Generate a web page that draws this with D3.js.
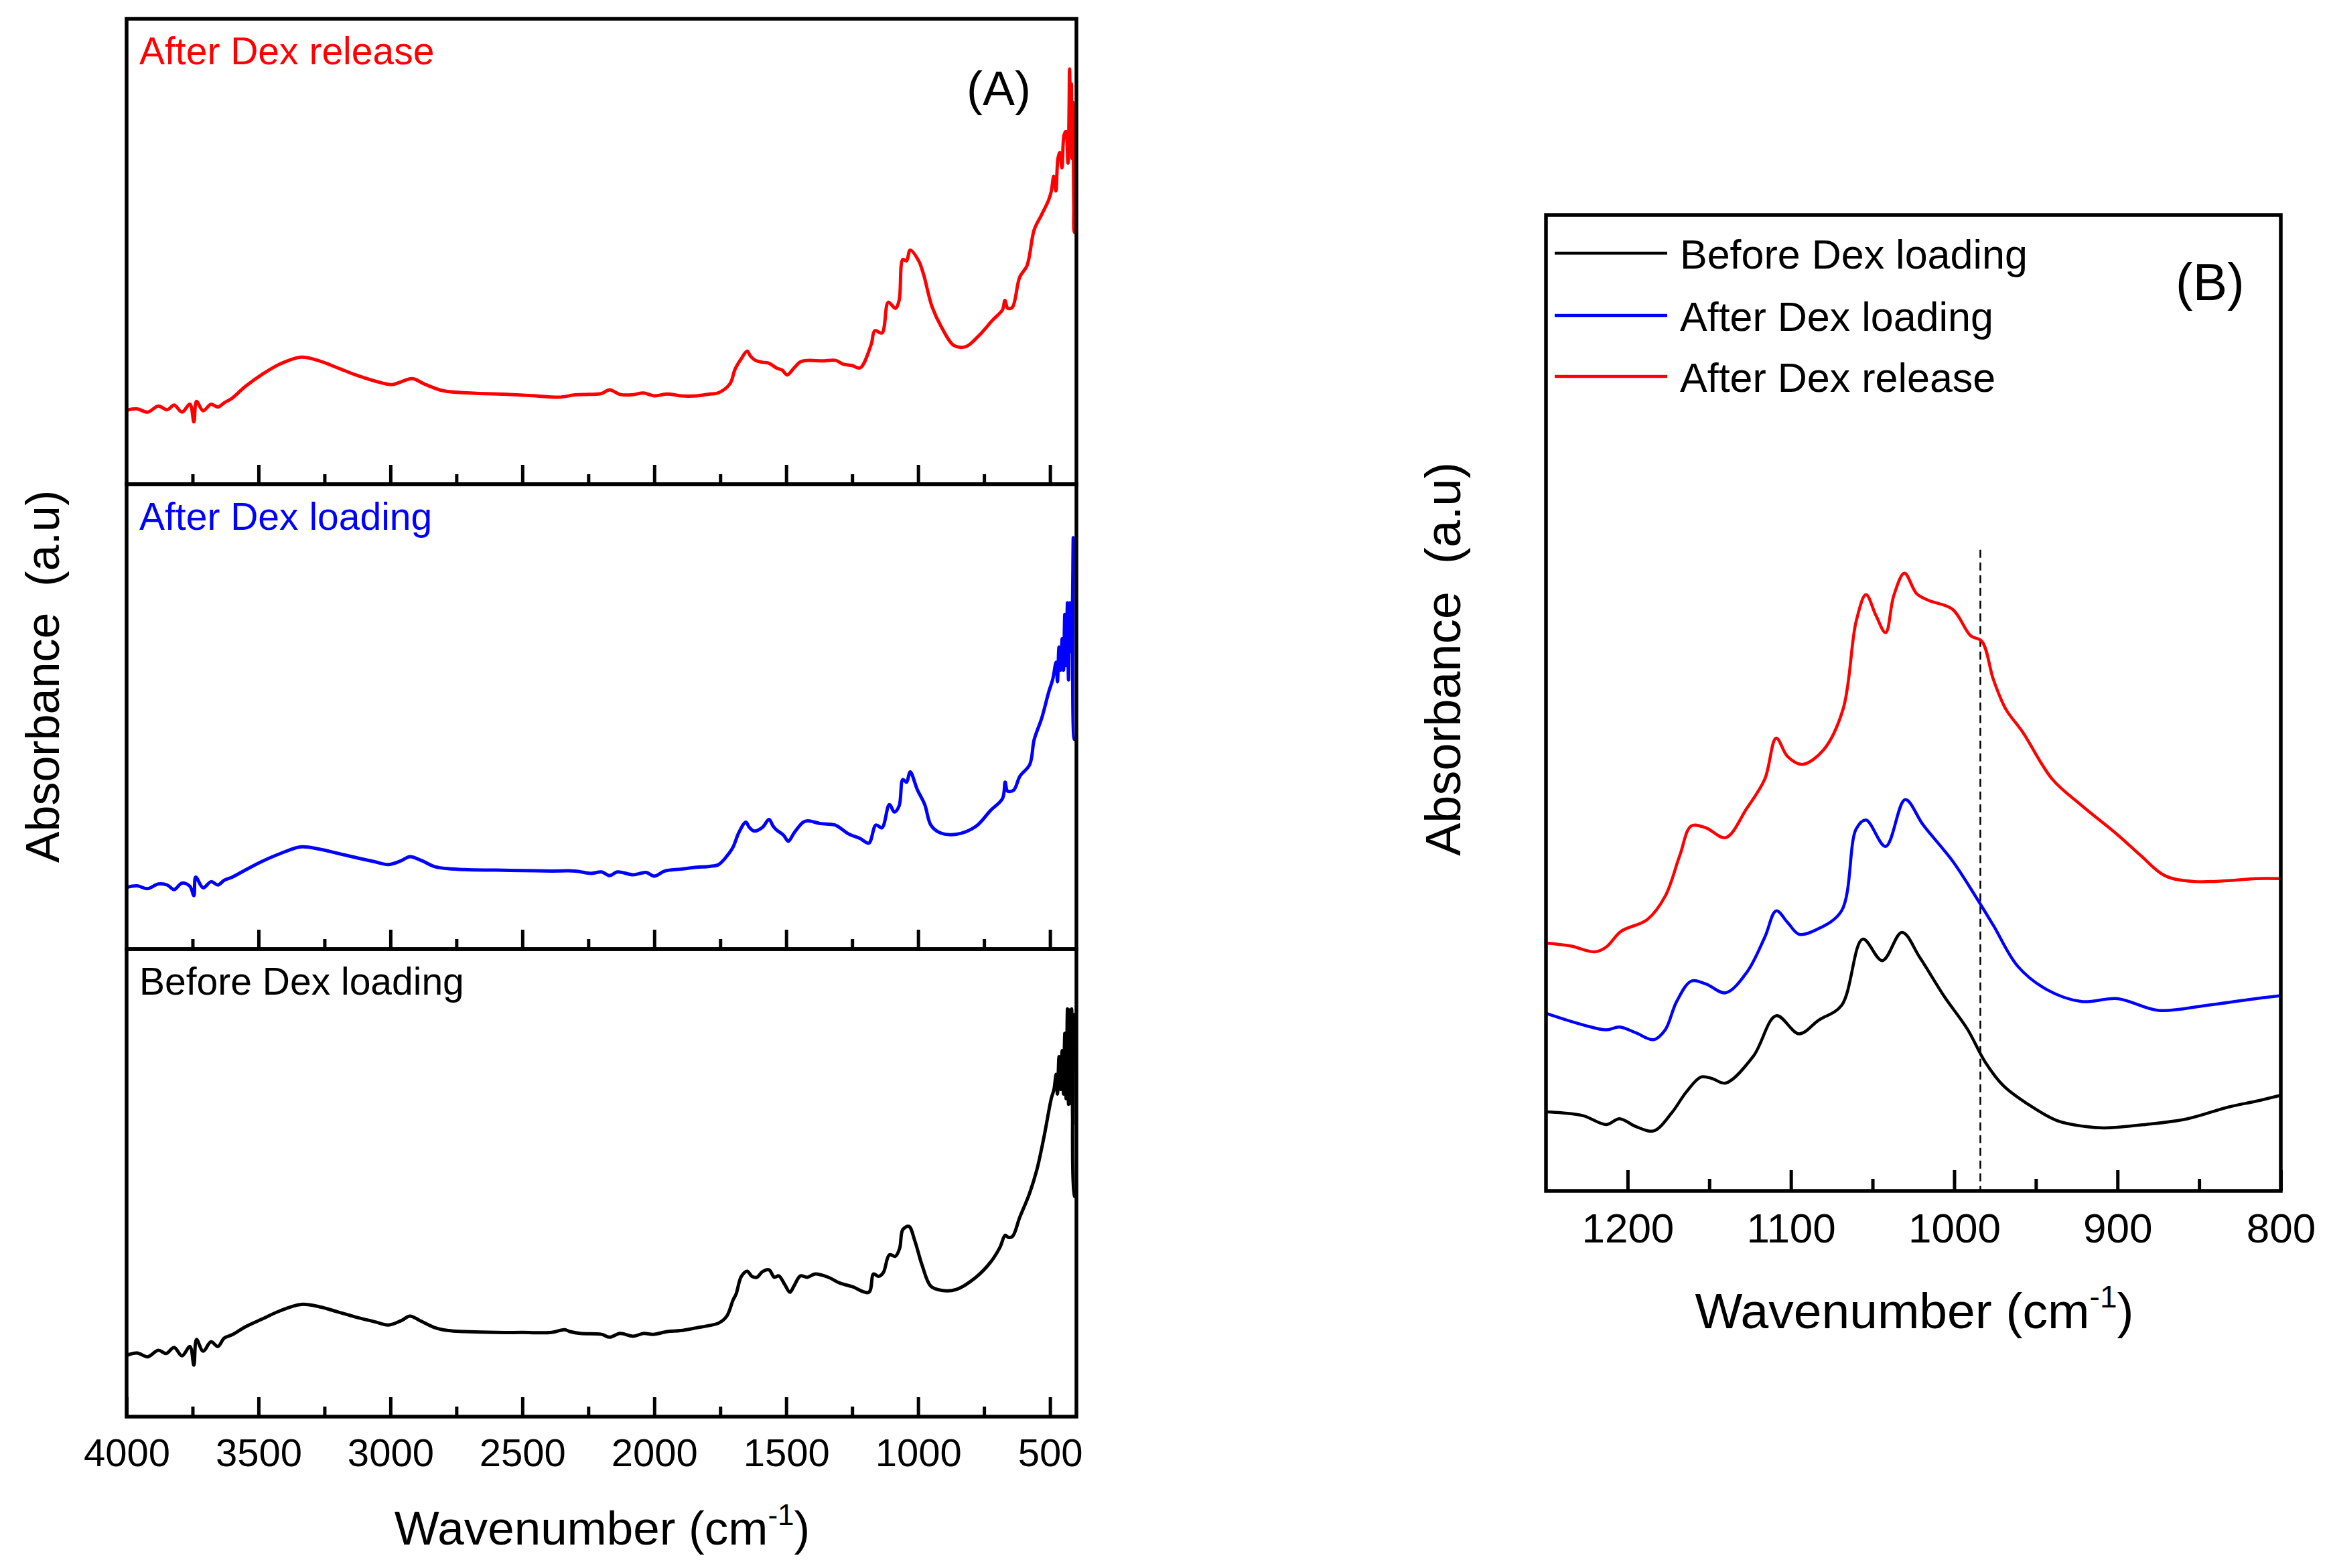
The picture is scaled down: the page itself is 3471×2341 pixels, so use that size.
<!DOCTYPE html>
<html>
<head>
<meta charset="utf-8">
<script src="https://cdn.jsdelivr.net/npm/d3@7"></script>
<style>
  body { margin: 0; background: #fff; }
  text { font-family: "Liberation Sans", Arial, sans-serif; }
</style>
</head>
<body>
<svg id="chart" width="3471" height="2341"></svg>
<script>
// ---- data (wavenumber, relative absorbance) ----
let beforeA = [[4000,0.131],[3960,0.136],[3920,0.128],[3880,0.142],[3850,0.135],[3820,0.148],[3790,0.130],[3760,0.150],[3745,0.110],[3735,0.165],[3710,0.140],[3680,0.160],[3654,0.150],[3630,0.168],[3600,0.175],[3550,0.192],[3489,0.208],[3420,0.226],[3338,0.240],[3269,0.235],[3200,0.224],[3132,0.213],[3060,0.203],[3008,0.196],[2960,0.205],[2926,0.215],[2890,0.206],[2830,0.190],[2780,0.184],[2720,0.182],[2600,0.180],[2500,0.180],[2389,0.180],[2340,0.186],[2320,0.182],[2280,0.178],[2200,0.176],[2169,0.170],[2130,0.178],[2080,0.172],[2040,0.178],[2004,0.176],[1950,0.182],[1900,0.184],[1839,0.190],[1790,0.195],[1756,0.200],[1725,0.215],[1701,0.250],[1690,0.262],[1670,0.300],[1648,0.311],[1630,0.300],[1611,0.298],[1590,0.310],[1565,0.314],[1545,0.298],[1528,0.301],[1505,0.282],[1486,0.266],[1470,0.280],[1446,0.301],[1420,0.298],[1390,0.305],[1340,0.298],[1298,0.286],[1250,0.278],[1187,0.266],[1169,0.305],[1150,0.300],[1132,0.308],[1109,0.346],[1086,0.343],[1070,0.360],[1058,0.400],[1035,0.407],[1012,0.375],[985,0.324],[952,0.279],[911,0.270],[855,0.272],[781,0.298],[726,0.330],[690,0.362],[670,0.388],[660,0.384],[643,0.385],[615,0.426],[578,0.477],[550,0.528],[523,0.598],[495,0.681],[485,0.700],[477,0.732],[472,0.690],[466,0.770],[460,0.700],[454,0.783],[449,0.690],[444,0.820],[439,0.680],[434,0.872],[430,0.668],[426,0.870],[422,0.670],[418,0.872],[414,0.624],[410,0.860],[407,0.471],[403,0.471]]

let loadedA = [[4000,0.133],[3960,0.136],[3920,0.130],[3880,0.140],[3846,0.138],[3820,0.128],[3790,0.142],[3760,0.135],[3745,0.115],[3738,0.155],[3710,0.132],[3680,0.145],[3654,0.138],[3630,0.148],[3599,0.155],[3550,0.170],[3489,0.188],[3420,0.205],[3338,0.220],[3269,0.215],[3200,0.206],[3132,0.197],[3060,0.188],[3008,0.182],[2960,0.190],[2926,0.199],[2880,0.190],[2830,0.177],[2720,0.171],[2600,0.170],[2500,0.169],[2389,0.168],[2300,0.168],[2240,0.163],[2200,0.166],[2169,0.158],[2140,0.166],[2080,0.160],[2031,0.165],[2000,0.157],[1960,0.168],[1900,0.172],[1839,0.176],[1790,0.178],[1756,0.182],[1725,0.200],[1701,0.220],[1680,0.250],[1653,0.273],[1640,0.262],[1621,0.254],[1590,0.262],[1565,0.279],[1550,0.265],[1538,0.257],[1510,0.245],[1492,0.232],[1470,0.250],[1436,0.273],[1418,0.276],[1370,0.270],[1316,0.267],[1261,0.247],[1220,0.238],[1187,0.228],[1160,0.267],[1137,0.261],[1109,0.311],[1090,0.295],[1072,0.308],[1058,0.365],[1044,0.359],[1030,0.381],[1003,0.343],[975,0.311],[952,0.267],[920,0.251],[855,0.247],[781,0.264],[726,0.298],[680,0.324],[670,0.359],[661,0.340],[638,0.342],[614,0.372],[577,0.397],[560,0.451],[532,0.496],[505,0.553],[490,0.580],[477,0.617],[472,0.575],[466,0.650],[460,0.600],[454,0.668],[449,0.600],[444,0.720],[439,0.610],[434,0.745],[430,0.579],[425,0.745],[420,0.640],[415,0.740],[412,0.885],[408,0.451],[403,0.457]]

let releaseA = [[4000,0.159],[3960,0.162],[3920,0.155],[3880,0.168],[3846,0.160],[3820,0.170],[3790,0.155],[3760,0.172],[3745,0.134],[3735,0.178],[3710,0.158],[3680,0.172],[3654,0.166],[3630,0.175],[3600,0.185],[3550,0.210],[3489,0.235],[3420,0.258],[3338,0.273],[3269,0.265],[3200,0.250],[3132,0.235],[3060,0.222],[2994,0.214],[2960,0.220],[2917,0.227],[2870,0.215],[2801,0.201],[2700,0.196],[2554,0.193],[2450,0.190],[2362,0.187],[2300,0.192],[2250,0.193],[2200,0.195],[2169,0.203],[2130,0.193],[2086,0.192],[2040,0.196],[2000,0.190],[1950,0.194],[1900,0.190],[1839,0.190],[1790,0.194],[1759,0.196],[1713,0.216],[1694,0.247],[1670,0.270],[1648,0.286],[1635,0.275],[1616,0.266],[1590,0.262],[1565,0.260],[1538,0.250],[1515,0.245],[1496,0.235],[1470,0.250],[1446,0.263],[1418,0.266],[1363,0.265],[1312,0.266],[1284,0.258],[1250,0.255],[1220,0.250],[1178,0.300],[1164,0.330],[1137,0.325],[1113,0.391],[1086,0.378],[1072,0.395],[1058,0.483],[1044,0.480],[1030,0.503],[998,0.480],[980,0.452],[947,0.381],[911,0.337],[864,0.298],[818,0.296],[772,0.318],[717,0.353],[680,0.375],[671,0.395],[660,0.378],[643,0.380],[615,0.445],[587,0.470],[560,0.547],[532,0.579],[505,0.611],[495,0.630],[486,0.662],[478,0.630],[470,0.700],[463,0.713],[455,0.680],[447,0.750],[440,0.758],[432,0.690],[428,0.800],[426,0.892],[422,0.780],[419,0.860],[417,0.700],[413,0.820],[410,0.600],[407,0.541],[403,0.541]]

let beforeB = [[1250,0.081],[1240,0.080],[1227,0.077],[1213,0.068],[1205,0.074],[1195,0.066],[1184,0.0615],[1173,0.080],[1164,0.1015],[1155,0.1167],[1148,0.115],[1140,0.1105],[1123,0.138],[1109,0.1795],[1095,0.161],[1083,0.175],[1069,0.190],[1056,0.258],[1044,0.236],[1032,0.265],[1021,0.239],[1006,0.199],[992,0.166],[981,0.132],[970,0.108],[955,0.089],[937,0.072],[920,0.066],[908,0.0645],[883,0.068],[857,0.074],[832,0.086],[815,0.092],[800,0.098]]

let loadedB = [[1250,0.182],[1227,0.170],[1213,0.165],[1205,0.168],[1195,0.162],[1184,0.155],[1177,0.165],[1170,0.194],[1161,0.215],[1152,0.212],[1140,0.203],[1127,0.224],[1116,0.260],[1109,0.287],[1102,0.275],[1095,0.263],[1084,0.268],[1069,0.287],[1060,0.371],[1054,0.380],[1042,0.353],[1030,0.401],[1019,0.375],[1001,0.338],[987,0.302],[976,0.272],[961,0.230],[943,0.206],[922,0.194],[900,0.197],[875,0.185],[846,0.190],[820,0.196],[800,0.200]]

let releaseB = [[1250,0.254],[1235,0.251],[1220,0.245],[1213,0.250],[1204,0.266],[1188,0.278],[1177,0.302],[1168,0.344],[1161,0.374],[1152,0.372],[1140,0.362],[1127,0.392],[1116,0.422],[1109,0.464],[1102,0.445],[1093,0.437],[1080,0.452],[1068,0.494],[1060,0.584],[1054,0.611],[1048,0.590],[1042,0.572],[1037,0.610],[1030.5,0.633],[1023,0.612],[1015.5,0.605],[1001,0.596],[990,0.569],[983,0.563],[976,0.524],[968.5,0.494],[958,0.470],[940,0.422],[922,0.395],[900,0.365],[886,0.344],[871,0.323],[853,0.317],[832,0.318],[815,0.320],[800,0.320]]

let ticksA = [3500, 3000, 2500, 2000, 1500, 1000, 500]
let minorA = [3750, 3250, 2750, 2250, 1750, 1250, 750]
let labelsA = [4000, 3500, 3000, 2500, 2000, 1500, 1000, 500]
let ticksB = [1200, 1100, 1000, 900, 800]
let minorB = [1150, 1050, 950, 850]
let markerB = 984

let names = ['Before Dex loading', 'After Dex loading', 'After Dex release']
let colors = ['#000000', '#0000ff', '#ff0000']

let svg = d3.select('#chart')

// ---------------- panel A ----------------
let xA = d3.scaleLinear().domain([4000, 400]).range([189, 1607])
// stacked sub-panels, top to bottom: release, loading, before
let bands = [[28, 723], [723, 1417], [1417, 2115]]
let seriesA = [releaseA, loadedA, beforeA]
let colorA = [colors[2], colors[1], colors[0]]
let nameA = [names[2], names[1], names[0]]

bands.forEach((b, i) => {
    let y = d3.scaleLinear().domain([0, 1]).range([b[1], b[0]])
    let g = svg.append('g')

    g.append('path')
        .datum(seriesA[i])
        .attr('fill', 'none')
        .attr('stroke', colorA[i])
        .attr('stroke-width', 5)
        .attr('stroke-linejoin', 'round')
        .attr('d', d3.line().curve(d3.curveCatmullRom.alpha(0.5)).x(d => xA(d[0])).y(d => y(d[1])))

    let last = i === bands.length - 1
    let ax = g.append('g')
        .attr('transform', 'translate(0,' + b[1] + ')')
        .call(d3.axisBottom(xA)
            .tickValues(last ? labelsA : ticksA)
            .tickSize(-29)
            .tickPadding(33)
            .tickFormat(last ? d3.format('d') : ''))
    ax.select('.domain').remove()
    ax.selectAll('line').attr('stroke-width', 5)
    ax.selectAll('text').attr('font-size', 58).attr('fill', '#000')

    let mn = g.append('g')
        .attr('transform', 'translate(0,' + b[1] + ')')
        .call(d3.axisBottom(xA).tickValues(minorA).tickSize(-15).tickFormat(''))
    mn.select('.domain').remove()
    mn.selectAll('line').attr('stroke-width', 5)

    g.append('rect')
        .attr('x', xA.range()[0])
        .attr('y', b[0])
        .attr('width', xA.range()[1] - xA.range()[0])
        .attr('height', b[1] - b[0])
        .attr('fill', 'none')
        .attr('stroke', '#000')
        .attr('stroke-width', 5.5)

    g.append('text')
        .attr('x', 208)
        .attr('y', b[0] + 68)
        .attr('font-size', 57)
        .attr('fill', colorA[i])
        .text(nameA[i])
})

svg.append('text')
    .attr('x', 1443)
    .attr('y', 157)
    .attr('font-size', 72)
    .text('(A)')

let titleA = svg.append('text')
    .attr('x', 899)
    .attr('y', 2306)
    .attr('text-anchor', 'middle')
    .attr('font-size', 71)
titleA.append('tspan').text('Wavenumber (cm')
titleA.append('tspan').attr('font-size', 44).attr('dy', -29).text('-1')
titleA.append('tspan').attr('dy', 29).text(')')

svg.append('text')
    .attr('transform', 'translate(88,1010) rotate(-90)')
    .attr('text-anchor', 'middle')
    .attr('font-size', 70)
    .style('white-space', 'pre')
    .text('Absorbance  (a.u)')

// ---------------- panel B ----------------
let xB = d3.scaleLinear().domain([1250, 800]).range([2308, 3405])
let yB = d3.scaleLinear().domain([0, 1]).range([1778, 321])
let seriesB = [beforeB, loadedB, releaseB]

let gB = svg.append('g')

gB.append('line')
    .attr('x1', xB(markerB)).attr('x2', xB(markerB))
    .attr('y1', yB(0.657)).attr('y2', yB(0))
    .attr('stroke', '#000')
    .attr('stroke-width', 2.5)
    .attr('stroke-dasharray', '12,7')

seriesB.forEach((s, i) => {
    gB.append('path')
        .datum(s)
        .attr('fill', 'none')
        .attr('stroke', colors[i])
        .attr('stroke-width', 4.5)
        .attr('stroke-linejoin', 'round')
        .attr('d', d3.line().curve(d3.curveCatmullRom.alpha(0.5)).x(d => xB(d[0])).y(d => yB(d[1])))
})

let axB = gB.append('g')
    .attr('transform', 'translate(0,' + yB(0) + ')')
    .call(d3.axisBottom(xB).tickValues(ticksB).tickSize(-31).tickPadding(33).tickFormat(d3.format('d')))
axB.select('.domain').remove()
axB.selectAll('line').attr('stroke-width', 5)
axB.selectAll('text').attr('font-size', 62).attr('fill', '#000')

let mnB = gB.append('g')
    .attr('transform', 'translate(0,' + yB(0) + ')')
    .call(d3.axisBottom(xB).tickValues(minorB).tickSize(-18).tickFormat(''))
mnB.select('.domain').remove()
mnB.selectAll('line').attr('stroke-width', 5)

gB.append('rect')
    .attr('x', xB.range()[0])
    .attr('y', yB.range()[1])
    .attr('width', xB.range()[1] - xB.range()[0])
    .attr('height', yB.range()[0] - yB.range()[1])
    .attr('fill', 'none')
    .attr('stroke', '#000')
    .attr('stroke-width', 5.5)

// legend
let legY = [378, 471, 562]
names.forEach((n, i) => {
    gB.append('line')
        .attr('x1', 2321).attr('x2', 2489)
        .attr('y1', legY[i]).attr('y2', legY[i])
        .attr('stroke', colors[i])
        .attr('stroke-width', 4.5)
    gB.append('text')
        .attr('x', 2508)
        .attr('y', legY[i] + 23)
        .attr('font-size', 61)
        .text(n)
})

gB.append('text')
    .attr('x', 3248)
    .attr('y', 448)
    .attr('font-size', 77)
    .text('(B)')

let titleB = svg.append('text')
    .attr('x', 2858)
    .attr('y', 1983)
    .attr('text-anchor', 'middle')
    .attr('font-size', 75)
titleB.append('tspan').text('Wavenumber (cm')
titleB.append('tspan').attr('font-size', 46).attr('dy', -31).text('-1')
titleB.append('tspan').attr('dy', 31).text(')')

svg.append('text')
    .attr('transform', 'translate(2180,984) rotate(-90)')
    .attr('text-anchor', 'middle')
    .attr('font-size', 74)
    .style('white-space', 'pre')
    .text('Absorbance  (a.u)')
</script>
</body>
</html>
